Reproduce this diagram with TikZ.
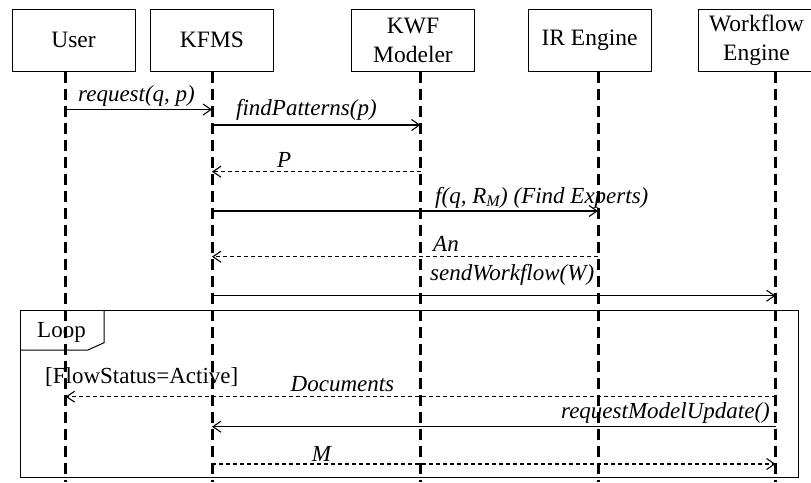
\documentclass[tikz,border=0pt]{standalone}
\usepackage{fontspec}
\setmainfont{Liberation Serif}
\usetikzlibrary{arrows.meta}

\begin{document}
\begin{tikzpicture}[x=1pt,y=-1pt,
	every node/.style={font=\fontsize{23}{28}\selectfont,inner sep=0pt},
	actor/.style={draw,line width=1pt,minimum width=123pt,minimum height=61.5pt,align=center,font=\fontsize{23.5}{28.5}\selectfont},
	lifeline/.style={line width=3pt,dash pattern=on 11pt off 6pt},
	msg/.style={line width=1.1pt,-{Straight Barb[length=8pt,width=11pt]}},
	reply/.style={msg,dash pattern=on 4pt off 3pt},
	msglabel/.style={anchor=base west,font=\fontsize{23}{28}\selectfont\itshape}]
	\useasboundingbox (0,0) rectangle (811,482);
	% actors and lifelines
	\node[actor] (user) at (73.5,40.3) {User};
	\node[actor] (kfms) at (212,40.3) {KFMS};
	\node[actor] (kwf) at (413,40.3) {KWF\\Modeler};
	\node[actor] (ir) at (589.5,40.3) {IR Engine};
	\node[actor,minimum width=117pt] (wfe) at (756.5,40.3) {Workflow\\Engine};
	\coordinate (userL) at (65.7,482);
	\coordinate (kfmsL) at (212,482);
	\coordinate (kwfL) at (420.5,482);
	\coordinate (irL) at (598,482);
	\coordinate (wfeL) at (775.5,482);
	\foreach \a in {user,kfms,kwf,ir,wfe}
		\draw[lifeline] (\a L |- \a.south) -- (\a L);
	% messages
	\draw[msg] (userL |- 0,109.5) -- (kfmsL |- 0,109.5);
	\node[msglabel] (m1) at (78,101) {request(q, p)};
	\draw[msg] (kfmsL |- 0,125) -- (kwfL |- 0,125);
	\node[msglabel] (m2) at (236,115.5) {findPatterns(p)};
	\draw[reply] (kwfL |- 0,171.7) -- (kfmsL |- 0,171.7);
	\node[msglabel] (m3) at (277,167.5) {P};
	\draw[msg] (kfmsL |- 0,211) -- (irL |- 0,211);
	\node[msglabel] (m4) at (435,203) {f(q, R\textsubscript{M}) (Find Experts)};
	\draw[reply] (irL |- 0,256.7) -- (kfmsL |- 0,256.7);
	\node[msglabel] (m5) at (433,251.7) {An};
	\draw[msg] (kfmsL |- 0,295.7) -- (wfeL |- 0,295.7);
	\node[msglabel] (m6) at (430,280) {sendWorkflow(W)};
	% loop frame
	\draw[line width=1pt] (20,310.7) rectangle (798,477.7);
	\draw[line width=1pt] (20,350) -- (88,350) -- (104,342.7) -- (104,310.7);
	\node[anchor=base west] (loop) at (37,337) {Loop};
	\node[anchor=base west] (guard) at (45,383) {[FlowStatus=Active]};
	\draw[reply] (wfeL |- 0,396.7) -- (userL |- 0,396.7);
	\node[msglabel] (m7) at (290.5,391.7) {Documents};
	\draw[msg] (wfeL |- 0,426.7) -- (kfmsL |- 0,426.7);
	\node[msglabel,anchor=base east] (m8) at (770,418) {requestModelUpdate()};
	\draw[reply] (kfmsL |- 0,464) -- (wfeL |- 0,464);
	\node[msglabel] (m9) at (311.7,461.7) {M};
\end{tikzpicture}
\end{document}
